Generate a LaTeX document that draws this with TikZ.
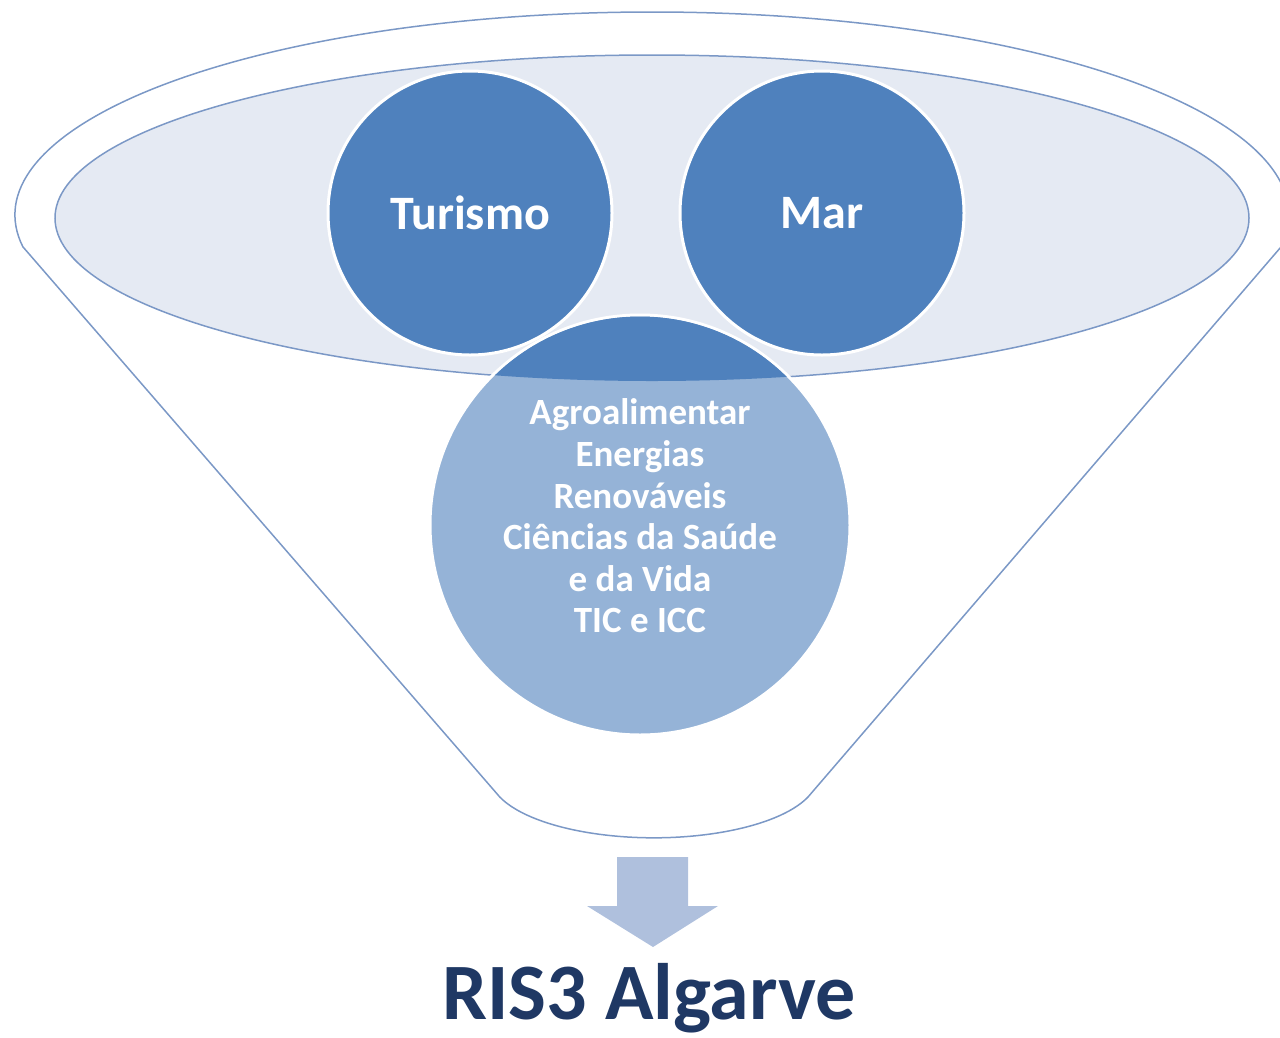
\documentclass[tikz,border=0pt]{standalone}
\usepackage{fontspec}
\setmainfont{Carlito}
\usetikzlibrary{positioning}
\definecolor{sectorblue}{HTML}{4F81BD}
\definecolor{lightsector}{HTML}{95B3D7}
\definecolor{rimfill}{HTML}{E5EAF3}
\definecolor{rimline}{HTML}{7B98C6}
\definecolor{arrowfill}{HTML}{AFC0DD}
\definecolor{titleblue}{HTML}{1F3864}

\begin{document}
\begin{tikzpicture}[
  x=1pt, y=-1pt,
  sector/.style={circle, draw=white, line width=3pt, fill=sectorblue, minimum size=284pt,
    inner sep=0pt, text=white, font=\bfseries\fontsize{48}{56}\selectfont},
  outline/.style={draw=rimline, line width=1.5pt},
  listtext/.style={align=center, text=white, font=\bfseries\fontsize{37}{41.6}\selectfont},
  title/.style={text=titleblue, font=\bfseries\fontsize{80}{90}\selectfont, inner sep=0pt}
]
\useasboundingbox (0,0) rectangle (1280,1037);

% funnel
\draw[outline] (652,215) ++(171:637 and 203)
  arc[start angle=171, end angle=369, x radius=637, y radius=203]
  -- (808,797) arc[start angle=20, end angle=160, x radius=164, y radius=62] -- cycle;
\draw[outline, fill=rimfill] (652,218) ellipse[x radius=597, y radius=163];

% sectors
\node[sector, fill=lightsector, minimum size=420pt] (others) at (640,525) {};
\begin{scope}
  \clip (652,218) ellipse[x radius=597, y radius=163];
  \fill[sectorblue] (others.center) circle[radius=208.5];
\end{scope}
\node[listtext] (otherstext) at ([yshift=9pt]others.center)
  {Agroalimentar\\Energias\\Renováveis\\Ciências da Saúde\\e da Vida\\TIC e ICC};

\node[sector] (turismo) at (470,213) {Turismo};
\node[sector, on grid, right=352pt of turismo] (mar) {Mar};

% result
\fill[arrowfill] (617,857) -- (688,857) -- (688,906) -- (718,906) -- (653,947)
  -- (587,906) -- (617,906) -- cycle;
\node[title, anchor=base] (ris) at (649,1019) {RIS3 Algarve};
\end{tikzpicture}
\end{document}
